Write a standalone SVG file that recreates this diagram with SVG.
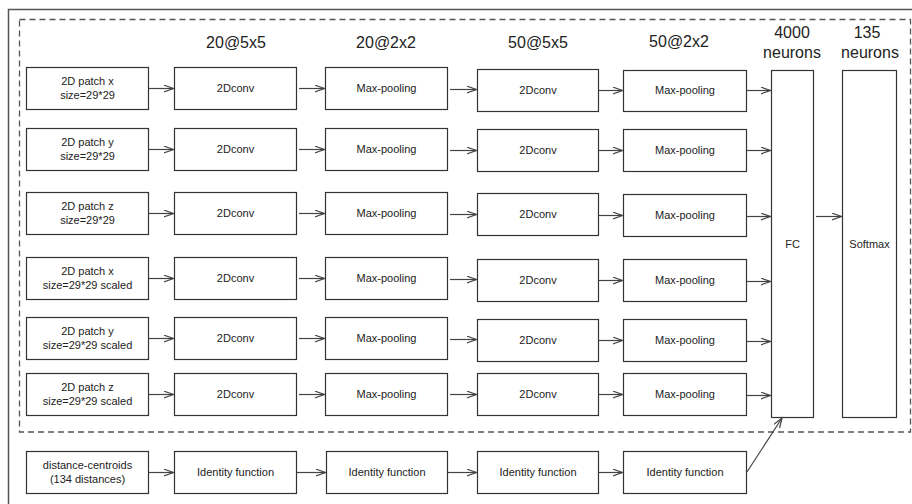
<svg xmlns="http://www.w3.org/2000/svg" width="912" height="504" viewBox="0 0 912 504">
<style>
.box{fill:#fff;stroke:#333;stroke-width:1.2}
.t{font-family:"Liberation Sans",Arial,sans-serif;font-size:11px;fill:#222;text-anchor:middle}
.h{font-family:"Liberation Sans",Arial,sans-serif;font-size:16px;fill:#222;text-anchor:middle}
.c line{stroke:#444;stroke-width:1.2;marker-end:url(#a)}
</style>
<defs>
<marker id="a" markerUnits="userSpaceOnUse" markerWidth="12" markerHeight="10" refX="10" refY="3.5" orient="auto">
<path d="M0,0 L10,3.5 L0,7" fill="none" stroke="#444" stroke-width="1.2"/>
</marker>
</defs>
<rect width="912" height="504" fill="#fff"/>
<rect x="8.5" y="9.5" width="920" height="510" fill="none" stroke="#555" stroke-width="1.5"/>
<rect x="19.5" y="19.5" width="891" height="412.5" fill="none" stroke="#555" stroke-width="1.3" stroke-dasharray="6 4"/>
<g id="headers">
<text class="h" x="236" y="48">20@5x5</text>
<text class="h" x="386" y="48">20@2x2</text>
<text class="h" x="538" y="48">50@5x5</text>
<text class="h" x="679" y="47">50@2x2</text>
<text class="h" x="792" y="38">4000</text>
<text class="h" x="792" y="58">neurons</text>
<text class="h" x="867" y="38">135</text>
<text class="h" x="870" y="58">neurons</text>
</g>
<g id="in1"><rect class="box" x="26.5" y="67.5" width="122" height="42"/><text class="t" x="87.5" y="85">2D patch x</text><text class="t" x="87.5" y="99">size=29*29</text></g>
<g id="in2"><rect class="box" x="26.5" y="128.5" width="122" height="42"/><text class="t" x="87.5" y="146">2D patch y</text><text class="t" x="87.5" y="160">size=29*29</text></g>
<g id="in3"><rect class="box" x="26.5" y="192.5" width="122" height="42"/><text class="t" x="87.5" y="210">2D patch z</text><text class="t" x="87.5" y="224">size=29*29</text></g>
<g id="in4"><rect class="box" x="26.5" y="257.5" width="122" height="42"/><text class="t" x="87.5" y="275">2D patch x</text><text class="t" x="87.5" y="289">size=29*29 scaled</text></g>
<g id="in5"><rect class="box" x="26.5" y="317.5" width="122" height="42"/><text class="t" x="87.5" y="335">2D patch y</text><text class="t" x="87.5" y="349">size=29*29 scaled</text></g>
<g id="in6"><rect class="box" x="26.5" y="373.5" width="122" height="42"/><text class="t" x="87.5" y="391">2D patch z</text><text class="t" x="87.5" y="405">size=29*29 scaled</text></g>
<g id="conv1a"><rect class="box" x="174.5" y="67.5" width="122" height="42"/><text class="t" x="235.5" y="92">2Dconv</text></g>
<g id="conv1b"><rect class="box" x="174.5" y="128.5" width="122" height="42"/><text class="t" x="235.5" y="153">2Dconv</text></g>
<g id="conv1c"><rect class="box" x="174.5" y="192.5" width="122" height="42"/><text class="t" x="235.5" y="217">2Dconv</text></g>
<g id="conv1d"><rect class="box" x="174.5" y="257.5" width="122" height="42"/><text class="t" x="235.5" y="282">2Dconv</text></g>
<g id="conv1e"><rect class="box" x="174.5" y="317.5" width="122" height="42"/><text class="t" x="235.5" y="342">2Dconv</text></g>
<g id="conv1f"><rect class="box" x="174.5" y="373.5" width="122" height="42"/><text class="t" x="235.5" y="398">2Dconv</text></g>
<g id="pool1a"><rect class="box" x="325.5" y="67.5" width="122" height="42"/><text class="t" x="386.5" y="92">Max-pooling</text></g>
<g id="pool1b"><rect class="box" x="325.5" y="128.5" width="122" height="42"/><text class="t" x="386.5" y="153">Max-pooling</text></g>
<g id="pool1c"><rect class="box" x="325.5" y="192.5" width="122" height="42"/><text class="t" x="386.5" y="217">Max-pooling</text></g>
<g id="pool1d"><rect class="box" x="325.5" y="257.5" width="122" height="42"/><text class="t" x="386.5" y="282">Max-pooling</text></g>
<g id="pool1e"><rect class="box" x="325.5" y="317.5" width="122" height="42"/><text class="t" x="386.5" y="342">Max-pooling</text></g>
<g id="pool1f"><rect class="box" x="325.5" y="373.5" width="122" height="42"/><text class="t" x="386.5" y="398">Max-pooling</text></g>
<g id="conv2a"><rect class="box" x="477.5" y="69.5" width="121" height="42"/><text class="t" x="538" y="94">2Dconv</text></g>
<g id="conv2b"><rect class="box" x="477.5" y="129.5" width="121" height="42"/><text class="t" x="538" y="154">2Dconv</text></g>
<g id="conv2c"><rect class="box" x="477.5" y="193.5" width="121" height="42"/><text class="t" x="538" y="218">2Dconv</text></g>
<g id="conv2d"><rect class="box" x="477.5" y="259.5" width="121" height="42"/><text class="t" x="538" y="284">2Dconv</text></g>
<g id="conv2e"><rect class="box" x="477.5" y="319.5" width="121" height="42"/><text class="t" x="538" y="344">2Dconv</text></g>
<g id="conv2f"><rect class="box" x="477.5" y="373.5" width="121" height="42"/><text class="t" x="538" y="398">2Dconv</text></g>
<g id="pool2a"><rect class="box" x="623.5" y="70.5" width="123" height="41"/><text class="t" x="685" y="94">Max-pooling</text></g>
<g id="pool2b"><rect class="box" x="623.5" y="129.5" width="123" height="42"/><text class="t" x="685" y="154">Max-pooling</text></g>
<g id="pool2c"><rect class="box" x="623.5" y="194.5" width="123" height="42"/><text class="t" x="685" y="219">Max-pooling</text></g>
<g id="pool2d"><rect class="box" x="623.5" y="259.5" width="123" height="42"/><text class="t" x="685" y="284">Max-pooling</text></g>
<g id="pool2e"><rect class="box" x="623.5" y="319.5" width="123" height="42"/><text class="t" x="685" y="344">Max-pooling</text></g>
<g id="pool2f"><rect class="box" x="623.5" y="373.5" width="123" height="42"/><text class="t" x="685" y="398">Max-pooling</text></g>
<g id="fc"><rect class="box" x="771.5" y="70.5" width="42" height="347"/><text class="t" x="792.5" y="248">FC</text></g>
<g id="softmax"><rect class="box" x="842.5" y="70.5" width="54" height="347"/><text class="t" x="869.5" y="248">Softmax</text></g>
<g id="dist"><rect class="box" x="26.5" y="451.5" width="122" height="42"/><text class="t" x="87.5" y="469">distance-centroids</text><text class="t" x="87.5" y="483">(134 distances)</text></g>
<g id="id1"><rect class="box" x="174.5" y="451.5" width="122" height="42"/><text class="t" x="235.5" y="476">Identity function</text></g>
<g id="id2"><rect class="box" x="326.5" y="451.5" width="121" height="42"/><text class="t" x="387" y="476">Identity function</text></g>
<g id="id3"><rect class="box" x="477.5" y="451.5" width="121" height="42"/><text class="t" x="538" y="476">Identity function</text></g>
<g id="id4"><rect class="box" x="623.5" y="451.5" width="123" height="42"/><text class="t" x="685" y="476">Identity function</text></g>
<g id="connectors" class="c">
<line x1="149" y1="88.5" x2="173.5" y2="88.5"/>
<line x1="149" y1="149.5" x2="173.5" y2="149.5"/>
<line x1="149" y1="213.5" x2="173.5" y2="213.5"/>
<line x1="149" y1="278.5" x2="173.5" y2="278.5"/>
<line x1="149" y1="338.5" x2="173.5" y2="338.5"/>
<line x1="149" y1="394.5" x2="173.5" y2="394.5"/>
<line x1="299" y1="88.5" x2="324.5" y2="88.5"/>
<line x1="299" y1="149.5" x2="324.5" y2="149.5"/>
<line x1="299" y1="213.5" x2="324.5" y2="213.5"/>
<line x1="299" y1="278.5" x2="324.5" y2="278.5"/>
<line x1="299" y1="338.5" x2="324.5" y2="338.5"/>
<line x1="299" y1="394.5" x2="324.5" y2="394.5"/>
<line x1="450" y1="89.5" x2="476.5" y2="89.5"/>
<line x1="450" y1="150.5" x2="476.5" y2="150.5"/>
<line x1="450" y1="214.5" x2="476.5" y2="214.5"/>
<line x1="450" y1="279.5" x2="476.5" y2="279.5"/>
<line x1="450" y1="339.5" x2="476.5" y2="339.5"/>
<line x1="450" y1="394.5" x2="476.5" y2="394.5"/>
<line x1="599" y1="90.5" x2="622.5" y2="90.5"/>
<line x1="599" y1="150.5" x2="622.5" y2="150.5"/>
<line x1="599" y1="215.5" x2="622.5" y2="215.5"/>
<line x1="599" y1="280.5" x2="622.5" y2="280.5"/>
<line x1="599" y1="340.5" x2="622.5" y2="340.5"/>
<line x1="599" y1="394.5" x2="622.5" y2="394.5"/>
<line x1="747" y1="90.5" x2="770.5" y2="90.5"/>
<line x1="747" y1="150.5" x2="770.5" y2="150.5"/>
<line x1="747" y1="216.5" x2="770.5" y2="216.5"/>
<line x1="747" y1="281.5" x2="770.5" y2="281.5"/>
<line x1="747" y1="341.5" x2="770.5" y2="341.5"/>
<line x1="747" y1="395.5" x2="770.5" y2="395.5"/>
<line x1="816" y1="216.5" x2="841.5" y2="216.5"/>
<line x1="149" y1="472.5" x2="173.5" y2="472.5"/>
<line x1="297" y1="472.5" x2="325.5" y2="472.5"/>
<line x1="448" y1="472.5" x2="476.5" y2="472.5"/>
<line x1="599" y1="472.5" x2="622.5" y2="472.5"/>
<line x1="747" y1="472" x2="782" y2="418"/>
</g>
</svg>
